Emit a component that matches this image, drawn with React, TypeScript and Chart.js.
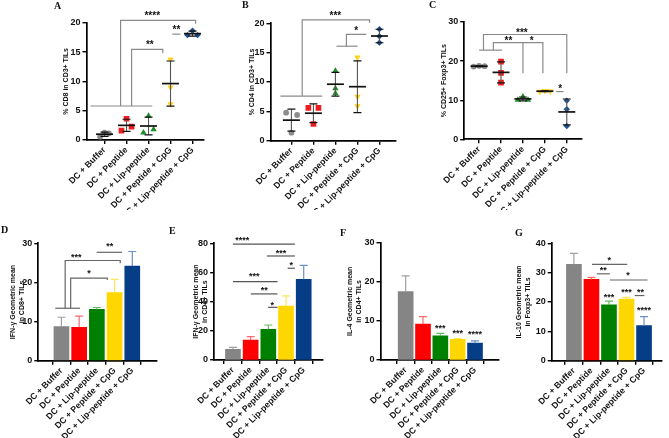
import React, { useEffect, useRef } from 'react';
import { Chart, registerables } from 'chart.js';

Chart.register(...registerables);

// ---------------- data ----------------
const categories = [
  'DC + Buffer',
  'DC + Peptide',
  'DC + Lip-peptide',
  'DC + Peptide + CpG',
  'DC + Lip-peptide + CpG',
];

// A: % CD8 in CD3+ TILs (individual mice per group)
const cd8InCd3 = [
  [0.57, 1.25, 1.14],
  [1.59, 3.63, 2.27],
  [1.25, 4.09, 1.82],
  [13.75, 8.98, 6.13],
  [17.89, 18.62, 17.89],
];
const jitterA = [
  [-0.2, 0, 0.2],
  [-0.23, 0, 0.23],
  [-0.23, 0, 0.23],
  [0, 0, 0],
  [-0.23, 0, 0.23],
];
const yTicksA = [0, 5, 10, 15, 20];

// B: % CD4 in CD3+ TILs
const cd4InCd3 = [
  [4.77, 1.36, 4.38],
  [5.6, 2.85, 5.6],
  [11.9, 8.9, 8.07],
  [14.2, 7.5, 5.9],
  [19.0, 17.8, 16.7],
];
const jitterB = [
  [-0.24, 0, 0.26],
  [-0.23, 0, 0.23],
  [0, 0, 0],
  [0, 0, 0],
  [0, 0, 0],
];
const yTicksB = [0, 5, 10, 15, 20];

// C: % CD25+ Foxp3+ TILs
const tregInCd3 = [
  [18.6, 18.8, 18.7],
  [19.85, 17.0, 14.5],
  [10.05, 10.9, 10.05],
  [12.2, 12.4, 12.3],
  [9.9, 7.7, 3.4],
];
const jitterC = [
  [-0.25, 0, 0.25],
  [0, 0, 0],
  [-0.23, 0, 0.23],
  [-0.23, 0, 0.25],
  [0, 0, 0],
];
const yTicksC = [0, 10, 20, 30];

// D: IFN-γ geometric mean in CD8+ TILs
const ifngCd8Mean = [8.7, 8.5, 13.1, 17.4, 24.2];
const ifngCd8Err = [2.4, 2.9, 0.5, 3.4, 3.7];
const yTicksD = [0, 10, 20, 30];

// E: IFN-γ geometric mean in CD4+ TILs
const ifngCd4Mean = [7.3, 13.7, 21.0, 37.0, 55.3];
const ifngCd4Err = [1.4, 2.3, 3.0, 6.9, 9.6];
const yTicksE = [0, 20, 40, 60, 80];

// F: IL-4 geometric mean in CD4+ TILs
const il4Cd4Mean = [17.5, 9.2, 6.2, 5.3, 4.3];
const il4Cd4Err = [4.0, 1.9, 0.6, 0.2, 0.6];
const yTicksF = [0, 10, 20, 30];

// G: IL-10 geometric mean in Foxp3+ TILs
const il10TregMean = [32.8, 27.7, 19.0, 21.0, 12.0];
const il10TregErr = [3.8, 0.7, 1.3, 0.6, 3.0];
const yTicksG = [0, 10, 20, 30, 40];

// significance annotations: polylines in (category index, value) and star labels
const sigLinesA = [
  [[-0.64, 5.8], [2.17, 5.8]],
  [[0.73, 5.8], [0.73, 20.4], [4.14, 20.4], [4.14, 19.8]],
  [[1.23, 5.8], [1.23, 15.45], [2.65, 15.45], [2.65, 14.8]],
  [[3.08, 18.05], [3.45, 18.05]],
];
const sigLabelsA = [
  { x: 2.17, y: 21.4, t: '****' },
  { x: 2.06, y: 16.5, t: '**' },
  { x: 3.27, y: 19.1, t: '**' },
];
const sigLinesB = [
  [[-0.5, 7.6], [1.4, 7.6]],
  [[0.49, 7.6], [0.49, 20.6], [3.55, 20.6], [3.55, 20.1]],
  [[2.05, 16.1], [3.01, 16.1]],
  [[2.5, 16.1], [2.5, 18.1], [3.4, 18.1]],
];
const sigLabelsB = [
  { x: 2.0, y: 21.6, t: '***' },
  { x: 2.94, y: 19.0, t: '*' },
];
const sigLinesC = [
  [[0, 22.8], [1.04, 22.8]],
  [[0.2, 22.8], [0.2, 26.8], [4.0, 26.8], [4.0, 16.9]],
  [[0.65, 22.8], [0.65, 24.7], [2.91, 24.7], [2.91, 16.9]],
  [[2.0, 24.7], [2.0, 16.9]],
  [[3.52, 12.2], [3.85, 12.2]],
];
const sigLabelsC = [
  { x: 1.95, y: 27.6, t: '***' },
  { x: 1.34, y: 25.6, t: '**' },
  { x: 2.4, y: 25.6, t: '*' },
  { x: 3.7, y: 13.3, t: '*' },
];
const sigLinesD = [
  [[-0.35, 13.4], [1.05, 13.4]],
  [[0.21, 13.4], [0.21, 25.6], [3.32, 25.6], [3.32, 24.9]],
  [[0.52, 13.4], [0.52, 21.1], [2.59, 21.1], [2.59, 20.6]],
  [[1.99, 27.7], [3.42, 27.7]],
];
const sigLabelsD = [
  { x: 0.83, y: 27.0, t: '***' },
  { x: 1.55, y: 22.8, t: '*' },
  { x: 2.73, y: 29.6, t: '**' },
];
const sigLinesE = [
  [[0, 79.5], [3.5, 79.5]],
  [[1.92, 71.3], [3.5, 71.3]],
  [[3.09, 62.9], [3.5, 62.9]],
  [[0, 53.7], [2.52, 53.7]],
  [[1.01, 45.3], [2.52, 45.3]],
  [[1.99, 36.1], [2.52, 36.1]],
];
const sigLabelsE = [
  { x: 0.52, y: 83.2, t: '****' },
  { x: 2.71, y: 74.7, t: '***' },
  { x: 3.3, y: 66.1, t: '*' },
  { x: 1.21, y: 58.8, t: '***' },
  { x: 1.77, y: 49.0, t: '**' },
  { x: 2.22, y: 38.8, t: '*' },
];
const sigLinesF: number[][][] = [];
const sigLabelsF = [
  { x: 2, y: 8.5, t: '***' },
  { x: 3, y: 7.4, t: '***' },
  { x: 4, y: 7.0, t: '****' },
];
const sigLinesG = [
  [[1.03, 32.8], [3.04, 32.8]],
  [[1.31, 29.6], [2.05, 29.6]],
  [[2.05, 27.5], [4.2, 27.5]],
  [[3.47, 22.2], [4.02, 22.2]],
];
const sigLabelsG = [
  { x: 2.02, y: 34.9, t: '*' },
  { x: 1.67, y: 31.3, t: '**' },
  { x: 3.09, y: 29.8, t: '*' },
  { x: 3.8, y: 23.9, t: '**' },
  { x: 2, y: 22.2, t: '***' },
  { x: 3, y: 23.9, t: '***' },
  { x: 4, y: 17.9, t: '****' },
];

// ---------------- styles ----------------
const FONT = '"Liberation Sans", Arial, Helvetica, sans-serif';
const pointColors = ['#8c8c8c', '#ee1c1c', '#1f8b24', '#ffd21a', '#1d4f92'];
const pointStyles = ['circle', 'rect', 'triangle', 'triangle', 'rectRot'];
const pointRotations = [0, 0, 0, 180, 0];
const pointRadii = [2.9, 4.0, 3.7, 3.7, 3.2];
const barColors = ['#858585', '#ff0000', '#008000', '#ffd700', '#053d87'];
const errColors = ['#a0a0a0', '#ff6b6b', '#66b866', '#ffe45c', '#6a8fc4'];

type Box = { x: number; y: number; w: number; h: number };
type Area = { l: number; t: number; r: number; b: number };
type Label = { x: number; y: number; t: string };
type Panel = {
  kind: 'scatter' | 'bar';
  box: Box;
  area: Area;
  xMin: number;
  xMax: number;
  yMax: number;
  yTicks: number[];
  title: string | string[];
  values?: number[][];
  jitter?: number[][];
  means?: number[];
  errs?: number[];
  lines: number[][][];
  labels: Label[];
  lineColor: string;
  starSize: number;
};

const mean = (a: number[]) => a.reduce((s, v) => s + v, 0) / a.length;
const sdev = (a: number[]) => {
  const m = mean(a);
  return Math.sqrt(a.reduce((s, v) => s + (v - m) * (v - m), 0) / (a.length - 1));
};

function overlay(p: Panel) {
  return {
    id: 'overlay',
    afterDatasetsDraw(chart: any) {
      const { ctx } = chart;
      const xs = chart.scales.x;
      const ys = chart.scales.y;
      const px = (v: number) => xs.getPixelForValue(v);
      const py = (v: number) => ys.getPixelForValue(v);
      ctx.save();
      if (p.values) {
        p.values.forEach((vals, i) => {
          const m = mean(vals);
          const s = sdev(vals);
          const cx = px(i);
          ctx.strokeStyle = '#555';
          ctx.lineWidth = 1.1;
          ctx.beginPath();
          ctx.moveTo(cx, py(m - s));
          ctx.lineTo(cx, py(m + s));
          ctx.stroke();
          ctx.strokeStyle = '#111';
          ctx.lineWidth = 1.2;
          ctx.beginPath();
          ctx.moveTo(cx - 4, py(m - s));
          ctx.lineTo(cx + 4, py(m - s));
          ctx.moveTo(cx - 4, py(m + s));
          ctx.lineTo(cx + 4, py(m + s));
          ctx.stroke();
          ctx.lineWidth = 1.7;
          ctx.beginPath();
          ctx.moveTo(cx - 8.5, py(m));
          ctx.lineTo(cx + 8.5, py(m));
          ctx.stroke();
        });
      }
      if (p.means && p.errs) {
        p.means.forEach((m, i) => {
          const e = p.errs![i];
          const cx = px(i);
          ctx.strokeStyle = errColors[i];
          ctx.lineWidth = 1.2;
          ctx.beginPath();
          ctx.moveTo(cx, py(m));
          ctx.lineTo(cx, py(m + e));
          ctx.moveTo(cx - 4, py(m + e));
          ctx.lineTo(cx + 4, py(m + e));
          ctx.stroke();
        });
      }
      ctx.strokeStyle = p.lineColor;
      ctx.lineWidth = 1.2;
      p.lines.forEach((path) => {
        ctx.beginPath();
        path.forEach(([cx, v], k) => {
          if (k === 0) ctx.moveTo(px(cx), py(v));
          else ctx.lineTo(px(cx), py(v));
        });
        ctx.stroke();
      });
      ctx.fillStyle = '#111';
      ctx.font = `bold ${p.starSize}px ${FONT}`;
      ctx.textAlign = 'center';
      ctx.textBaseline = 'middle';
      p.labels.forEach((l) => {
        ctx.fillText(l.t, px(l.x), py(l.y) + 2);
      });
      ctx.restore();
    },
  };
}

function buildConfig(p: Panel): any {
  const axisGrid = {
    display: true,
    drawOnChartArea: false,
    drawTicks: true,
    tickLength: 4,
    color: '#000',
    lineWidth: 1.4,
  };
  const axisBorder = { display: true, color: '#000', width: 1.7 };
  const scales = {
    x: {
      type: 'linear',
      min: p.xMin,
      max: p.xMax,
      afterBuildTicks: (s: any) => {
        s.ticks = categories.map((_, i) => ({ value: i }));
      },
      afterFit: (s: any) => {
        s.height = p.box.y + p.box.h - p.area.b;
      },
      ticks: {
        autoSkip: false,
        maxRotation: 45,
        minRotation: 45,
        padding: 1,
        color: '#111',
        font: { family: FONT, size: 8.7, weight: 'bold' },
        callback: (v: number) => categories[v] ?? '',
      },
      grid: axisGrid,
      border: axisBorder,
    },
    y: {
      type: 'linear',
      min: 0,
      max: p.yMax,
      afterBuildTicks: (s: any) => {
        s.ticks = p.yTicks.map((v) => ({ value: v }));
      },
      afterFit: (s: any) => {
        s.width = p.area.l - p.box.x;
      },
      ticks: {
        padding: 2,
        color: '#111',
        font: { family: FONT, size: 9, weight: 'bold' },
        callback: (v: number) => String(v),
      },
      grid: axisGrid,
      border: axisBorder,
      title: {
        display: true,
        text: p.title,
        color: '#111',
        font: { family: FONT, size: 7, weight: 'bold', lineHeight: 1.28 },
        padding: { top: 2, bottom: 0 },
      },
    },
  };
  const options = {
    responsive: false,
    animation: false,
    events: [],
    layout: {
      autoPadding: false,
      padding: {
        top: p.area.t - p.box.y,
        right: p.box.x + p.box.w - p.area.r,
        left: 0,
        bottom: 0,
      },
    },
    plugins: { legend: { display: false }, tooltip: { enabled: false } },
    scales,
  };
  let data: any;
  if (p.kind === 'scatter') {
    data = {
      datasets: p.values!.map((vals, i) => ({
        data: vals.map((v, k) => ({ x: i + p.jitter![i][k], y: v })),
        pointStyle: pointStyles[i],
        rotation: pointRotations[i],
        radius: pointRadii[i],
        backgroundColor: pointColors[i],
        borderColor: pointColors[i],
        borderWidth: 0,
      })),
    };
  } else {
    data = {
      datasets: [
        {
          data: p.means!.map((v, i) => ({ x: i, y: v })),
          backgroundColor: barColors,
          borderWidth: 0,
          barThickness: 15,
        },
      ],
    };
  }
  return { type: p.kind === 'scatter' ? 'scatter' : 'bar', data, options, plugins: [overlay(p)] };
}

const panels: Panel[] = [
  {
    kind: 'scatter', box: { x: 59.5, y: 0, w: 156, h: 210 }, area: { l: 86, t: 22.7, r: 203, b: 140 },
    xMin: -0.82, xMax: 4.5, yMax: 20, yTicks: yTicksA, title: '% CD8 in CD3+ TILs',
    values: cd8InCd3, jitter: jitterA, lines: sigLinesA, labels: sigLabelsA, lineColor: '#8a8a8a', starSize: 10,
  },
  {
    kind: 'scatter', box: { x: 245.5, y: 0, w: 160, h: 210 }, area: { l: 270, t: 23.3, r: 395, b: 140.7 },
    xMin: -0.95, xMax: 4.73, yMax: 20, yTicks: yTicksB, title: '% CD4 in CD3+ TILs',
    values: cd4InCd3, jitter: jitterB, lines: sigLinesB, labels: sigLabelsB, lineColor: '#8a8a8a', starSize: 10,
  },
  {
    kind: 'scatter', box: { x: 437.8, y: 0, w: 160, h: 210 }, area: { l: 464, t: 22, r: 581.7, b: 139.3 },
    xMin: -0.68, xMax: 4.69, yMax: 30, yTicks: yTicksC, title: '% CD25+ Foxp3+ TILs',
    values: tregInCd3, jitter: jitterC, lines: sigLinesC, labels: sigLabelsC, lineColor: '#8a8a8a', starSize: 10,
  },
  {
    kind: 'bar', box: { x: 7.2, y: 215, w: 158, h: 223 }, area: { l: 38.5, t: 243.3, r: 156.7, b: 360.7 },
    xMin: -0.64, xMax: 4.7, yMax: 30, yTicks: yTicksD, title: ['IFN-γ Geometric mean', 'in CD8+ TILs'],
    means: ifngCd8Mean, errs: ifngCd8Err, lines: sigLinesD, labels: sigLabelsD, lineColor: '#666', starSize: 9,
  },
  {
    kind: 'bar', box: { x: 190.2, y: 215, w: 145, h: 223 }, area: { l: 214.3, t: 243.3, r: 323.3, b: 360 },
    xMin: -0.45, xMax: 4.48, yMax: 80, yTicks: yTicksE, title: ['IFN-γ Geometric mean', 'in CD4+ TILs'],
    means: ifngCd4Mean, errs: ifngCd4Err, lines: sigLinesE, labels: sigLabelsE, lineColor: '#555', starSize: 9,
  },
  {
    kind: 'bar', box: { x: 343.5, y: 215, w: 165, h: 223 }, area: { l: 380, t: 242.7, r: 498.3, b: 360 },
    xMin: -0.77, xMax: 4.69, yMax: 30, yTicks: yTicksF, title: ['IL-4 Geometric mean', 'in CD4+ TILs'],
    means: il4Cd4Mean, errs: il4Cd4Err, lines: sigLinesF, labels: sigLabelsF, lineColor: '#555', starSize: 9,
  },
  {
    kind: 'bar', box: { x: 513, y: 215, w: 156, h: 223 }, area: { l: 551.7, t: 243.3, r: 661.7, b: 360.7 },
    xMin: -0.64, xMax: 4.38, yMax: 40, yTicks: yTicksG, title: ['IL-10 Geometric mean', 'in Foxp3+ TILs'],
    means: il10TregMean, errs: il10TregErr, lines: sigLinesG, labels: sigLabelsG, lineColor: '#666', starSize: 9,
  },
];

const panelLetters: [string, number, number][] = [
  ['A', 54, 9],
  ['B', 242, 8],
  ['C', 429, 8],
  ['D', 1, 233],
  ['E', 169, 234],
  ['F', 340, 236],
  ['G', 515, 236],
];

function ChartPanel({ panel }: { panel: Panel }) {
  const ref = useRef<HTMLCanvasElement>(null);
  useEffect(() => {
    const chart = new Chart(ref.current as HTMLCanvasElement, buildConfig(panel));
    return () => chart.destroy();
  }, [panel]);
  const { box } = panel;
  return (
    <canvas
      ref={ref}
      width={Math.round(box.w)}
      height={Math.round(box.h)}
      style={{ position: 'absolute', left: box.x, top: box.y, width: Math.round(box.w), height: Math.round(box.h) }}
    />
  );
}

export default function App() {
  return (
    <div style={{ position: 'absolute', left: 0, top: 0, width: 669, height: 438, background: '#fff', overflow: 'hidden' }}>
      {panels.map((p, i) => (
        <ChartPanel key={i} panel={p} />
      ))}
      {panelLetters.map(([t, x, base]) => (
        <span
          key={t}
          style={{
            position: 'absolute',
            left: x,
            top: base - 8.2,
            font: 'bold 10px "Liberation Serif", "Times New Roman", serif',
            lineHeight: '10px',
            color: '#111',
          }}
        >
          {t}
        </span>
      ))}
    </div>
  );
}
